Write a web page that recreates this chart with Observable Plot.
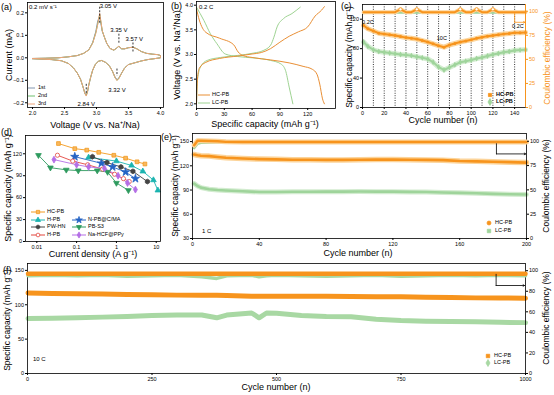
<!DOCTYPE html>
<html><head><meta charset="utf-8">
<script src="https://cdn.jsdelivr.net/npm/d3@7"></script>
<script src="https://cdn.jsdelivr.net/npm/@observablehq/plot@0.6"></script>
<style>
html,body{margin:0;padding:0;background:#fff;}
#root{position:relative;width:554px;height:395px;overflow:hidden;background:#fff;font-family:"Liberation Sans",Arial,sans-serif;}
.t{position:absolute;white-space:nowrap;line-height:1;}
</style></head><body><div id="root"></div>
<script>
// ================= DATA =================
// (a) cyclic voltammetry, three cycles
const cvVolt = [2.00,2.20,2.40,2.55,2.70,2.80,2.88,2.94,2.99,3.02,3.05,3.07,3.09,3.12,3.16,3.21,3.27,3.31,3.35,3.39,3.44,3.50,3.57,3.63,3.70,3.78,3.88,3.96,4.00,
  4.00,3.90,3.80,3.70,3.60,3.50,3.44,3.39,3.35,3.32,3.29,3.25,3.20,3.14,3.08,3.03,2.98,2.94,2.91,2.88,2.86,2.84,2.82,2.79,2.75,2.70,2.64,2.56,2.45,2.30,2.15,2.00];
const cvCur1 = [-0.003,-0.002,0.000,0.004,0.010,0.020,0.036,0.068,0.118,0.165,0.185,0.150,0.118,0.094,0.064,0.042,0.034,0.042,0.051,0.040,0.040,0.045,0.047,0.040,0.028,0.020,0.016,0.014,0.010,
  0.000,-0.004,-0.008,-0.014,-0.022,-0.030,-0.045,-0.069,-0.090,-0.097,-0.086,-0.060,-0.035,-0.020,-0.012,-0.015,-0.031,-0.056,-0.086,-0.121,-0.150,-0.165,-0.158,-0.130,-0.095,-0.068,-0.045,-0.025,-0.013,-0.008,-0.006,-0.004];
const cvCur2 = [-0.003,-0.002,0.000,0.004,0.010,0.020,0.035,0.066,0.112,0.152,0.192,0.158,0.120,0.095,0.065,0.042,0.034,0.042,0.052,0.040,0.040,0.045,0.047,0.040,0.028,0.020,0.016,0.014,0.010,
  0.000,-0.004,-0.008,-0.014,-0.022,-0.030,-0.045,-0.070,-0.091,-0.100,-0.088,-0.060,-0.035,-0.020,-0.012,-0.015,-0.030,-0.055,-0.085,-0.120,-0.150,-0.168,-0.160,-0.130,-0.095,-0.068,-0.045,-0.025,-0.013,-0.008,-0.006,-0.004];
const cvCur3 = [-0.003,-0.002,0.000,0.004,0.010,0.020,0.035,0.065,0.110,0.150,0.198,0.160,0.120,0.095,0.065,0.042,0.034,0.042,0.052,0.040,0.040,0.045,0.047,0.040,0.028,0.020,0.016,0.014,0.010,
  0.000,-0.004,-0.008,-0.014,-0.022,-0.030,-0.045,-0.070,-0.092,-0.101,-0.088,-0.060,-0.035,-0.020,-0.012,-0.015,-0.030,-0.055,-0.085,-0.120,-0.150,-0.170,-0.160,-0.130,-0.095,-0.068,-0.045,-0.025,-0.013,-0.008,-0.006,-0.004];
const cvCycles = ["1st","2nd","3rd"];
const cvPeakV = [3.05, 3.35, 3.57, 3.32, 2.84];
const cvPeakLabels = ["3.05 V","3.35 V","3.57 V","3.32 V","2.84 V"];

// (b) charge / discharge at 0.2 C
const hcChargeCap = [0,0.5,1,3,10,25,45,60,70,80,90,100,110,120,128,135,138];
const hcChargeV   = [2.0,2.3,2.5,2.72,2.84,2.92,2.97,3.01,3.04,3.12,3.25,3.37,3.46,3.56,3.78,3.90,3.97];
const hcDisCap = [0,3,10,25,40,45,50,60,80,100,115,125,130,133,136,138];
const hcDisV   = [3.92,3.70,3.45,3.33,3.20,3.05,2.98,2.94,2.89,2.83,2.76,2.70,2.60,2.40,2.10,2.00];
const lcChargeCap = [0,0.5,1.5,4.7,11.5,26,44,62,72,80,83.5,87,94,103,112];
const lcChargeV   = [2.0,2.3,2.55,2.76,2.88,2.94,2.98,3.03,3.08,3.19,3.35,3.56,3.73,3.83,3.96];
const lcDisCap = [0,8,15,22,31,44,62,80,91,96,100,104];
const lcDisV   = [3.96,3.69,3.42,3.22,3.01,2.96,2.93,2.88,2.81,2.68,2.34,2.00];

// (c) rate test
const cCycles = [1,5,10,15,20,25,30,35,40,45,50,55,60,65,70,75,80,85,90,95,100,105,110,115,120,125,130,135,140,145,150];
const cHcCap  = [111.5,107,104,101,100,99,98,96.5,95,94,93,91,89,86.5,84,82,85,87,89,90.5,92,94,95.5,97,98,99,100,100.5,101.5,101.5,102];
const cLcCap  = [89,83,78.5,76,75,74,73,72,71.5,70.5,69,67.5,66,61.5,55,51,54.5,58,61.5,63,64.5,66.5,68,70,72,73.5,75,76,77.5,78,78.5];
const cHcCE   = [99,99,99,99,99,99,99,102,99,99,102,99,99,99,99,99,99,99,102,99,99,102,99,99,102,99,99,99,99,99,99];
const cLcCE   = [98,98.5,98.5,98.5,98.5,98.5,98.5,98.5,98.5,98.5,98.5,98.5,98.5,98.5,98.5,98.5,98.5,98.5,98.5,98.5,98.5,98.5,98.5,98.5,98.5,98.5,98.5,98.5,98.5,98.5,98.5];
const cStepEnds = [10,20,30,40,50,60,70,80,90,100,110,120,130,140];
const cRateLabels = ["0.2C","10C","0.2C"];

// (d) rate comparison
const dSeries = ["HC-PB","H-PB","N-PB@C/MA","PW-HN","PB-S3","H-PB ","Na-HCF@PPy"];
const dCurrent = [
  [0.035,0.09,0.18,0.36,0.86,1.7,3.3,5.2],
  [0.2,1,2.4,4.6,8.5,11],
  [0.09,0.42,0.8,1.7,3.0],
  [0.25,0.58,1.3,2.6,6],
  [0.011,0.022,0.055,0.11,0.33,0.6,1.0,2.0],
  [0.033,0.08,0.19,0.45,0.9,1.5,2.1],
  [0.027,0.1,0.2,0.5,1.1,1.9,3.0]
];
const dCapacity = [
  [134,127,125,122,118,114,109,106],
  [115,110,104,96,84,70],
  [116,107,102,95,86],
  [116,108,102,96,82],
  [118,101,98,97,97,95,80,70],
  [118,110,105,99,92,86,82],
  [112,105,102,100,90,80,71]
];

// (e) cycling at 1 C
const eCycles = [1,3,5,10,15,20,30,40,50,60,70,80,90,100,110,120,130,140,150,160,170,180,190,200];
const eHcCap = [134,133,132.5,132,131,130,129,128.3,128,127.5,127.5,127.3,127.3,127.5,127.7,127.7,127.5,127.3,127,126,125.5,125,124.5,124];
const eLcCap = [98,95,93,91,90,89.5,88.5,87.5,87.5,87.8,87.8,88,88,88.2,88,88,87.7,87.5,87,86.5,86,85.3,84.8,84.5];
const eHcCE  = [96,100.5,100.5,100.3,100,99.4,99.3,99.3,99.3,99.3,99.3,99.3,99.3,99.3,99.3,99.3,99.3,99.3,99.3,99.3,99.3,99.3,99.3,99.3];
const eLcCE  = [93,97.5,98.5,98.8,99,99,99,99,99,99,99,99,99,99,99,99,99,99,99,99,99,99,99,99];

// (f) cycling at 10 C
const fCycles = [1,50,100,150,200,250,300,350,380,400,450,465,480,500,550,600,650,700,750,800,850,900,950,1000];
const fHcCap = [117,116.5,116,115.5,115,114.5,114,114,113.8,113.5,112.5,112.5,112.5,112.5,112.5,112.3,112,111.8,111.5,111,110.5,110,109.8,109.5];
const fLcCap = [80,80.5,81,82,83,84.5,85,85,81,85,88,81,88,87.5,84.5,83,82.5,79,77,76,75.5,75.2,74.5,74];
const fHcCE  = [97,97,97,97,97,97,97,97,97,97,97,97,97,97,97,97,97,97,97,97,97,97,97,97];
const fLcCE  = [95,95.5,95,95.5,94.5,95,95.5,94,92.5,95,95.5,94,95,95.5,95,94.5,95,95.5,94.5,95,95.5,95,95.5,95];

// ================= HELPERS =================
const FONT = '"Liberation Sans", Arial, sans-serif';
const OR = "#f7941d", ORL = "#fcd49a", GR = "#9fd49b", GRL = "#d3ecd0";
const root = document.getElementById("root");
const M = 24;
function panel(box, opts) {
  const [x0, y0, x1, y1] = box;
  const svg = Plot.plot({
    width: x1 - x0 + 2 * M, height: y1 - y0 + 2 * M,
    marginLeft: M, marginRight: M, marginTop: M, marginBottom: M,
    style: {background: "transparent", overflow: "visible", fontFamily: FONT, fontSize: "5.5px", color: "#000"},
    ...opts
  });
  svg.style.position = "absolute";
  svg.style.left = (x0 - M) + "px";
  svg.style.top = (y0 - M) + "px";
  svg.style.maxWidth = "none";
  root.appendChild(svg);
}
function txt(s, cx, cy, o = {}) {
  const d = document.createElement("div");
  d.className = "t";
  d.textContent = s;
  d.style.fontSize = (o.size || 9) + "px";
  d.style.color = o.color || "#000";
  if (o.bold) d.style.fontWeight = "bold";
  d.style.left = cx + "px";
  d.style.top = cy + "px";
  const ax = o.anchor === "start" ? "0" : "-50%";
  d.style.transform = `translate(${ax},-50%) rotate(${o.rot || 0}deg)`;
  root.appendChild(d);
}
function hexPath(r) {
  let p = "";
  for (let i = 0; i < 6; i++) { const a = Math.PI / 3 * i + Math.PI / 6; p += (i ? "L" : "M") + (r * Math.cos(a)).toFixed(2) + "," + (r * Math.sin(a)).toFixed(2); }
  return p + "Z";
}
function symPath(sym, size) {
  if (sym === "hexagon") return hexPath(Math.sqrt(size) * 0.62);
  const t = {circle: d3.symbolCircle, square: d3.symbolSquare, diamond: d3.symbolDiamond, triangle: d3.symbolTriangle, star: d3.symbolStar}[sym];
  return d3.symbol().type(t).size(size)();
}
function legendItem(x, y, it) {
  const L = it.lineLen || 0, w = Math.max(L, 8);
  const ns = "http://www.w3.org/2000/svg";
  const s = document.createElementNS(ns, "svg");
  s.setAttribute("width", w); s.setAttribute("height", 10);
  s.style.position = "absolute"; s.style.left = x + "px"; s.style.top = (y - 5) + "px"; s.style.overflow = "visible";
  if (L) { const l = document.createElementNS(ns, "line"); l.setAttribute("x1", 0); l.setAttribute("x2", L); l.setAttribute("y1", 5); l.setAttribute("y2", 5); l.setAttribute("stroke", it.color); l.setAttribute("stroke-width", it.lw || 1); s.appendChild(l); }
  if (it.sym) {
    const p = document.createElementNS(ns, "path");
    p.setAttribute("d", symPath(it.sym, it.size || 12));
    p.setAttribute("transform", `translate(${w / 2},5) rotate(${it.rot || 0})`);
    p.setAttribute("fill", it.fill || it.color); p.setAttribute("stroke", it.color); p.setAttribute("stroke-width", 0.8);
    s.appendChild(p);
  }
  root.appendChild(s);
  txt(it.text, x + w + 2, y, {size: it.fs || 5.5, anchor: "start", bold: it.bold});
}
const zip = (xs, ys, extra = {}) => xs.map((x, i) => ({x, y: ys[i], ...extra}));
const ax = (o) => ({tickSize: 2, tickPadding: 1.5, label: null, ...o});

// ================= (a) CV =================
const cvData = cvCycles.flatMap((c, k) => zip(cvVolt, [cvCur1, cvCur2, cvCur3][k], {c}));
const cvColors = ["#8196b0", "#6fc06f", "#efa57a"];
panel([27, 2, 163, 107], {
  x: {domain: [1.922, 4.047]}, y: {domain: [-0.221, 0.246]},
  marks: [
    Plot.line(cvData, {x: "x", y: "y", z: "c", stroke: "c", strokeWidth: 1}),
    Plot.ruleX(cvPeakV.slice(0, 1), {y1: 0.225, y2: 0.15, strokeDasharray: "2,1.5", strokeWidth: 0.8}),
    Plot.ruleX(cvPeakV.slice(1, 2), {y1: 0.105, y2: 0.062, strokeDasharray: "2,1.5", strokeWidth: 0.8}),
    Plot.ruleX(cvPeakV.slice(2, 3), {y1: 0.066, y2: 0.02, strokeDasharray: "2,1.5", strokeWidth: 0.8}),
    Plot.ruleX(cvPeakV.slice(3, 4), {y1: -0.05, y2: -0.082, strokeDasharray: "2,1.5", strokeWidth: 0.8}),
    Plot.ruleX(cvPeakV.slice(4, 5), {y1: -0.118, y2: -0.165, strokeDasharray: "2,1.5", strokeWidth: 0.8}),
    Plot.text([cvPeakLabels[0]], {x: cvPeakV[0], y: 0.232, text: d => d, textAnchor: "start", fontSize: 6}),
    Plot.text([cvPeakLabels[1]], {x: cvPeakV[1], y: 0.124, text: d => d, fontSize: 6}),
    Plot.text([cvPeakLabels[2]], {x: cvPeakV[2] + 0.02, y: 0.082, text: d => d, fontSize: 6}),
    Plot.text([cvPeakLabels[3]], {x: cvPeakV[3], y: -0.145, text: d => d, fontSize: 6}),
    Plot.text([cvPeakLabels[4]], {x: cvPeakV[4], y: -0.205, text: d => d, fontSize: 6}),
    Plot.frame({strokeWidth: 0.8}),
    Plot.axisX(ax({ticks: [2, 2.5, 3, 3.5, 4], tickFormat: d3.format(".1f")})),
    Plot.axisY(ax({ticks: [-0.2, -0.1, 0, 0.1, 0.2], tickFormat: d3.format(".1f")}))
  ],
  color: {domain: cvCycles, range: cvColors}
});
txt("(a)", 1, 7, {anchor: "start", size: 9});
txt("0.2 mV s⁻¹", 29, 7, {anchor: "start", size: 6});
txt("Voltage (V vs. Na⁺/Na)", 95, 125, {size: 9});
txt("Current (mA)", 9, 55, {size: 9, rot: -90});
cvCycles.forEach((c, i) => legendItem(28, 87.5 + i * 8, {text: c, color: cvColors[i], lineLen: 7, fs: 5.5}));

// ================= (b) GCD =================
const gcd = [
  ...zip(hcChargeCap, hcChargeV, {s: "hc-c"}), ...zip(hcDisCap, hcDisV, {s: "hc-d"}),
  ...zip(lcChargeCap, lcChargeV, {s: "lc-c"}), ...zip(lcDisCap, lcDisV, {s: "lc-d"})
];
const HCB = "#e98f35", LCB = "#9ed392";
panel([196, 1, 335, 108], {
  x: {domain: [0, 150]}, y: {domain: [1.905, 4.075]},
  marks: [
    Plot.line(gcd.filter(d => d.s[0] === "l"), {x: "x", y: "y", z: "s", stroke: LCB, strokeWidth: 1, curve: "monotone-x"}),
    Plot.line(gcd.filter(d => d.s[0] === "h"), {x: "x", y: "y", z: "s", stroke: HCB, strokeWidth: 1, curve: "monotone-x"}),
    Plot.frame({strokeWidth: 0.8}),
    Plot.axisX(ax({ticks: [0, 30, 60, 90, 120]})),
    Plot.axisY(ax({ticks: [2, 2.5, 3, 3.5, 4], tickFormat: d3.format(".1f")}))
  ]
});
txt("(b)", 171, 6, {anchor: "start", size: 9});
txt("0.2 C", 199, 7, {anchor: "start", size: 6});
txt("Specific capacity (mAh g⁻¹)", 265, 124, {size: 9});
txt("Voltage (V vs. Na⁺/Na)", 177, 55, {size: 9, rot: -90});
legendItem(198, 95, {text: "HC-PB", color: HCB, lineLen: 12, fs: 5.5});
legendItem(198, 103, {text: "LC-PB", color: LCB, lineLen: 12, fs: 5.5});

// ================= (c) rate =================
const cBox = [362, 4, 525, 107];
const cHc = zip(cCycles, cHcCap), cLc = zip(cCycles, cLcCap);
panel(cBox, {
  x: {domain: [0, 150]}, y: {domain: [0, 140]},
  marks: [
    Plot.ruleX(cStepEnds, {strokeDasharray: "1,1.4", strokeWidth: 0.8}),
    Plot.line(cLc, {x: "x", y: "y", stroke: GRL, strokeWidth: 5}),
    Plot.line(cLc, {x: "x", y: "y", stroke: GR, strokeWidth: 2}),
    Plot.dot(cLc, {x: "x", y: "y", symbol: "diamond", r: 1.8, fill: GR}),
    Plot.line(cHc, {x: "x", y: "y", stroke: ORL, strokeWidth: 5}),
    Plot.line(cHc, {x: "x", y: "y", stroke: OR, strokeWidth: 2}),
    Plot.dot(cHc, {x: "x", y: "y", r: 1.5, fill: OR}),
    Plot.text([cRateLabels[0]], {x: 5, y: 116, text: d => d, fontSize: 5.5}),
    Plot.text([cRateLabels[1]], {x: 73, y: 94, text: d => d, fontSize: 5.5}),
    Plot.text([cRateLabels[2]], {x: 143, y: 110, text: d => d, fontSize: 5.5}),
    Plot.frame({strokeWidth: 0.8}),
    Plot.axisX(ax({ticks: [0, 20, 40, 60, 80, 100, 120, 140]})),
    Plot.axisY(ax({ticks: [0, 40, 80, 120]}))
  ]
});
const cHcE = zip(cCycles, cHcCE), cLcE = zip(cCycles, cLcCE);
panel(cBox, {
  x: {domain: [0, 150], axis: null}, y: {domain: [0, 107]},
  marks: [
    Plot.line(cLcE, {x: "x", y: "y", stroke: GR, strokeWidth: 2}),
    Plot.line(cHcE, {x: "x", y: "y", stroke: ORL, strokeWidth: 4}),
    Plot.line(cHcE, {x: "x", y: "y", stroke: OR, strokeWidth: 2}),
    Plot.dot(cHcE.filter(d => d.y > 100), {x: "x", y: "y", r: 1.6, stroke: OR, fill: "white", strokeWidth: 0.8}),
    Plot.line([[140, 98], [140, 88.5]], {stroke: OR, strokeWidth: 0.8}),
    Plot.arrow([[140, 88.5, 149.5, 88.5]], {x1: "0", y1: "1", x2: "2", y2: "3", stroke: OR, strokeWidth: 0.8, headLength: 3}),
    Plot.ruleX([150], {stroke: OR, strokeWidth: 1}),
    Plot.axisY(ax({anchor: "right", ticks: [0, 25, 50, 75, 100], stroke: OR, color: OR}))
  ]
});
txt("(c)", 341, 6, {anchor: "start", size: 9});
txt("Cycle number (n)", 443, 120, {size: 9});
txt("Specific capacity (mAh g⁻¹)", 349, 57, {size: 8.5, rot: -90});
txt("Coulombic efficiency (%)", 547, 58, {size: 8.5, rot: -90, color: OR});
legendItem(486, 95, {text: "HC-PB", color: OR, sym: "square", size: 10, fs: 5.5, bold: true});
legendItem(486, 101.5, {text: "LC-PB", color: GR, sym: "diamond", size: 14, fs: 5.5, bold: true});

// ================= (d) rate comparison =================
const dColors = ["#f39a1e", "#1bb4b0", "#2563c4", "#444444", "#2e9a5e", "#e3463f", "#b46ee6"];
const dSyms = ["square", "triangle", "star", "hexagon", "triangle", "circle", "diamond"];
const dFill = [ "#f8b860", "#1bb4b0", "#2563c4", "#444444", "#2e9a5e", "white", "#b46ee6"];
const dData = dSeries.flatMap((s, k) => zip(dCurrent[k], dCapacity[k], {s, k}));
panel([25, 135, 160, 241], {
  x: {type: "log", domain: [0.0052, 12.8]}, y: {domain: [0, 145]},
  marks: [
    ...dSeries.map((s, k) => Plot.line(dData.filter(d => d.k === k), {x: "x", y: "y", stroke: dColors[k], strokeWidth: 0.9})),
    ...dSeries.map((s, k) => Plot.dot(dData.filter(d => d.k === k), {x: "x", y: "y", symbol: dSyms[k], r: dSyms[k] === "star" ? 2.6 : 2.1, fill: dFill[k], stroke: dColors[k], strokeWidth: 0.8, rotate: k === 4 ? 180 : 0})),
    Plot.frame({strokeWidth: 0.8}),
    Plot.axisX(ax({ticks: [0.01, 0.1, 1, 10], tickFormat: d => String(d)})),
    Plot.axisY(ax({ticks: [0, 30, 60, 90, 120]}))
  ]
});
txt("(d)", 1, 132, {anchor: "start", size: 9});
txt("Current density (A g⁻¹)", 93, 254, {size: 9});
txt("Specific capacity (mAh g⁻¹)", 8, 188, {size: 9, rot: -90});
const dLeg = [[0, 31, 212], [1, 31, 219.5], [2, 72, 219.5], [3, 31, 227], [4, 72, 227], [5, 31, 234.5], [6, 72, 234.5]];
dLeg.forEach(([k, x, y]) => legendItem(x, y, {text: dSeries[k].trim(), color: dColors[k], fill: dFill[k], sym: dSyms[k], size: dSyms[k] === "star" ? 14 : 11, rot: k === 4 ? 180 : 0, lineLen: 14, fs: 5.5}));

// ================= (e) 1 C cycling =================
const eBox = [192, 133, 526, 238];
const eHc = zip(eCycles, eHcCap), eLc = zip(eCycles, eLcCap);
panel(eBox, {
  x: {domain: [0, 200]}, y: {domain: [30, 160]},
  marks: [
    Plot.line(eLc, {x: "x", y: "y", stroke: GRL, strokeWidth: 5}),
    Plot.line(eLc, {x: "x", y: "y", stroke: GR, strokeWidth: 2.6}),
    Plot.line(eHc, {x: "x", y: "y", stroke: ORL, strokeWidth: 5.5}),
    Plot.line(eHc, {x: "x", y: "y", stroke: OR, strokeWidth: 2.6}),
    Plot.frame({strokeWidth: 0.8}),
    Plot.axisX(ax({ticks: [0, 40, 80, 120, 160, 200]})),
    Plot.axisY(ax({ticks: [30, 60, 90, 120, 150]}))
  ]
});
const eHcE = zip(eCycles, eHcCE), eLcE = zip(eCycles, eLcCE);
panel(eBox, {
  x: {domain: [0, 200], axis: null}, y: {domain: [0, 108]},
  marks: [
    Plot.line(eLcE, {x: "x", y: "y", stroke: GR, strokeWidth: 2.6}),
    Plot.line(eHcE, {x: "x", y: "y", stroke: ORL, strokeWidth: 5}),
    Plot.line(eHcE, {x: "x", y: "y", stroke: OR, strokeWidth: 2.4}),
    Plot.line([[182, 97.5], [182, 87]], {strokeWidth: 0.8}),
    Plot.arrow([[182, 87, 199.5, 87]], {x1: "0", y1: "1", x2: "2", y2: "3", strokeWidth: 0.8, headLength: 3}),
    Plot.axisY(ax({anchor: "right", ticks: [0, 25, 50, 75, 100]}))
  ]
});
txt("(e)", 161, 137, {anchor: "start", size: 9});
txt("1 C", 202, 231, {anchor: "start", size: 6});
txt("Cycle number (n)", 358, 253, {size: 9});
txt("Specific capacity (mAh g⁻¹)", 175, 186, {size: 8.5, rot: -90});
txt("Coulombic efficiency (%)", 546, 186, {size: 8.5, rot: -90});
legendItem(485, 223, {text: "HC-PB", color: OR, sym: "circle", size: 12, fs: 5.5});
legendItem(485, 231, {text: "LC-PB", color: GR, sym: "square", size: 12, fs: 5.5});

// ================= (f) 10 C cycling =================
const fBox = [27, 263, 525, 373];
const fHc = zip(fCycles, fHcCap), fLc = zip(fCycles, fLcCap);
panel(fBox, {
  x: {domain: [0, 1000]}, y: {domain: [0, 160]},
  marks: [
    Plot.line(fLc, {x: "x", y: "y", stroke: "#a8d8a3", strokeWidth: 5}),
    Plot.line(fHc, {x: "x", y: "y", stroke: OR, strokeWidth: 5}),
    Plot.frame({strokeWidth: 0.8}),
    Plot.axisX(ax({ticks: [0, 250, 500, 750, 1000], tickFormat: d => String(d)})),
    Plot.axisY(ax({ticks: [0, 50, 100, 150]}))
  ]
});
const fHcE = zip(fCycles, fHcCE), fLcE = zip(fCycles, fLcCE);
panel(fBox, {
  x: {domain: [0, 1000], axis: null}, y: {domain: [0, 107]},
  marks: [
    Plot.line(fLcE, {x: "x", y: "y", stroke: "#a8d8a3", strokeWidth: 3.5}),
    Plot.line(fHcE, {x: "x", y: "y", stroke: OR, strokeWidth: 4.5}),
    Plot.line([[941, 96.5], [941, 85.6]], {strokeWidth: 0.8}),
    Plot.arrow([[941, 85.6, 998, 85.6]], {x1: "0", y1: "1", x2: "2", y2: "3", strokeWidth: 0.8, headLength: 3}),
    Plot.axisY(ax({anchor: "right", ticks: [0, 20, 40, 60, 80, 100]}))
  ]
});
txt("(f)", 3, 270, {anchor: "start", size: 9});
txt("10 C", 33, 359, {anchor: "start", size: 6});
txt("Cycle number (n)", 276, 387, {size: 9});
txt("Specific capacity (mAh g⁻¹)", 7, 320, {size: 8.5, rot: -90});
txt("Coulombic efficiency (%)", 546, 318, {size: 8.5, rot: -90});
legendItem(484, 356, {text: "HC-PB", color: OR, sym: "square", size: 12, fs: 5.5});
legendItem(484, 363, {text: "LC-PB", color: "#a8d8a3", sym: "diamond", size: 14, fs: 5.5});
</script></body></html>
